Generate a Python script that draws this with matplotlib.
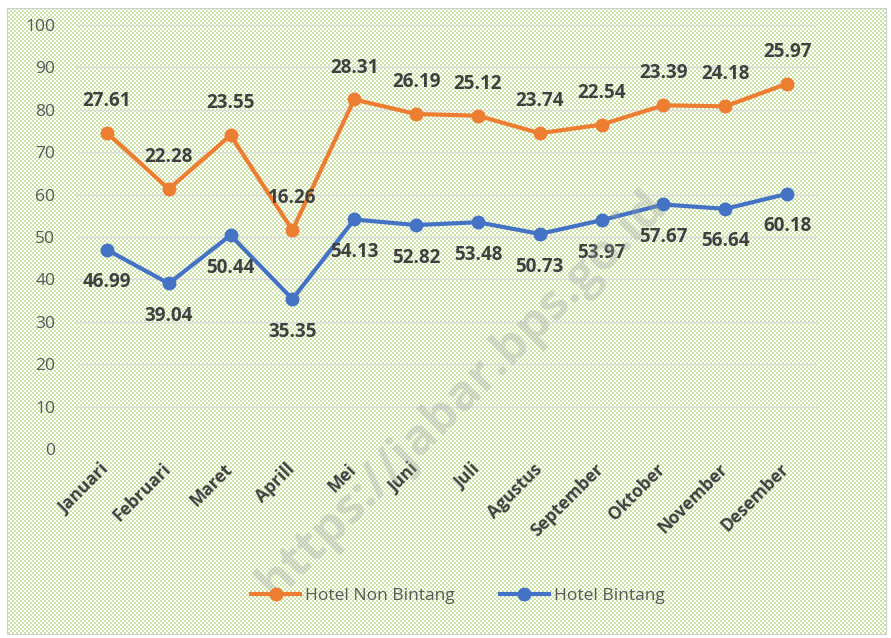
import numpy as np
import matplotlib
matplotlib.use("Agg")
import matplotlib.pyplot as plt
from matplotlib.patches import Rectangle
from matplotlib.transforms import ScaledTranslation

# ---- data ----
months = ["Januari", "Februari", "Maret", "Aprill", "Mei", "Juni", "Juli",
          "Agustus", "September", "Oktober", "November", "Desember"]
hotel_bintang = [46.99, 39.04, 50.44, 35.35, 54.13, 52.82, 53.48, 50.73,
                 53.97, 57.67, 56.64, 60.18]
hotel_non_bintang = [27.61, 22.28, 23.55, 16.26, 28.31, 26.19, 25.12, 23.74,
                     22.54, 23.39, 24.18, 25.97]
yticks = [0, 10, 20, 30, 40, 50, 60, 70, 80, 90, 100]

W, H = 891, 638
fig = plt.figure(figsize=(W / 100, H / 100), dpi=100, facecolor="white")

# dotted background (style)
img = np.ones((H, W, 4))
yy, xx = np.mgrid[0:H, 0:W]
dots = (((xx % 4) < 2) & ((yy % 4) < 2)) | ((((xx + 2) % 4) < 2) & (((yy + 2) % 4) < 2))
dots &= (xx > 7) & (xx < 886) & (yy > 8) & (yy < 634)
dots &= ((xx // 2 + yy // 2) % 2 == 0)
green = np.array([0.80, 0.89, 0.66, 1.0])
img[dots] = green
fig.figimage(img[::-1], xo=0, yo=0, zorder=-1, origin="lower")
fig.patches.append(Rectangle((7 / W, 1 - 634 / H), 879 / W, 626 / H,
                             transform=fig.transFigure, fill=False,
                             edgecolor="#d0d0d0", linewidth=0.8, zorder=-0.5))

ax = fig.add_axes([76 / W, 1 - 449 / H, 742 / W, 424 / H])
ax.patch.set_alpha(0)

x = np.arange(len(months))
stack_top = np.array(hotel_bintang) + np.array(hotel_non_bintang)

orange = "#ED7D31"
blue = "#4472C4"
ax.plot(x, stack_top, color=orange, lw=3, marker="o", ms=9, zorder=3,
        label="Hotel Non Bintang", solid_joinstyle="round")
ax.plot(x, hotel_bintang, color=blue, lw=3, marker="o", ms=9, zorder=3,
        label="Hotel Bintang", solid_joinstyle="round")

lab_kw = dict(textcoords="offset points", ha="center", va="center",
              fontsize=13.5, fontweight="bold", color="#404040",
              family=["Open Sans", "DejaVu Sans"], zorder=4)
for xi, v, top in zip(x, hotel_non_bintang, stack_top):
    ax.annotate(f"{v:.2f}", (xi, top), xytext=(0, 23), **lab_kw)
for xi, v in zip(x, hotel_bintang):
    ax.annotate(f"{v:.2f}", (xi, v), xytext=(0, -23.5), **lab_kw)

ax.set_xlim(-0.5, 11.5)
ax.set_ylim(0, 100)
ax.set_yticks(yticks)
ax.set_yticklabels([str(t) for t in yticks], fontsize=12.5, color="#595959",
                   family=["Open Sans", "DejaVu Sans"])
ax.tick_params(axis="y", length=0, pad=15)
ax.set_xticks(x)
ax.set_xticklabels(months, rotation=45, ha="right", rotation_mode="anchor",
                   fontsize=12.5, fontweight="bold", color="#404040",
                   family=["Open Sans", "DejaVu Sans"])
ax.tick_params(axis="x", length=0, pad=8)
shift = ScaledTranslation(-7 / 100, 0, fig.dpi_scale_trans)
for lbl in ax.get_xticklabels():
    lbl.set_transform(lbl.get_transform() + shift)
ax.grid(axis="y", color="#dcdcdc", lw=1, zorder=1)
for s in ax.spines.values():
    s.set_visible(False)

fig.legend(loc="center", bbox_to_anchor=(0.514, 1 - 596 / H), ncol=2,
           frameon=False, handlelength=2.8, handletextpad=0.3,
           columnspacing=2.6,
           prop={"family": ["Open Sans", "DejaVu Sans"], "size": 12.5},
           labelcolor="#595959")

fig.text(462 / W, 1 - 395 / H, "https://jabar.bps.go.id", rotation=45,
         fontsize=36, color="#a0a0a0", alpha=0.3, ha="center", va="center",
         family=["Open Sans", "DejaVu Sans"], fontweight="bold", zorder=5)

fig.savefig("out.png", dpi=100, facecolor="white")
